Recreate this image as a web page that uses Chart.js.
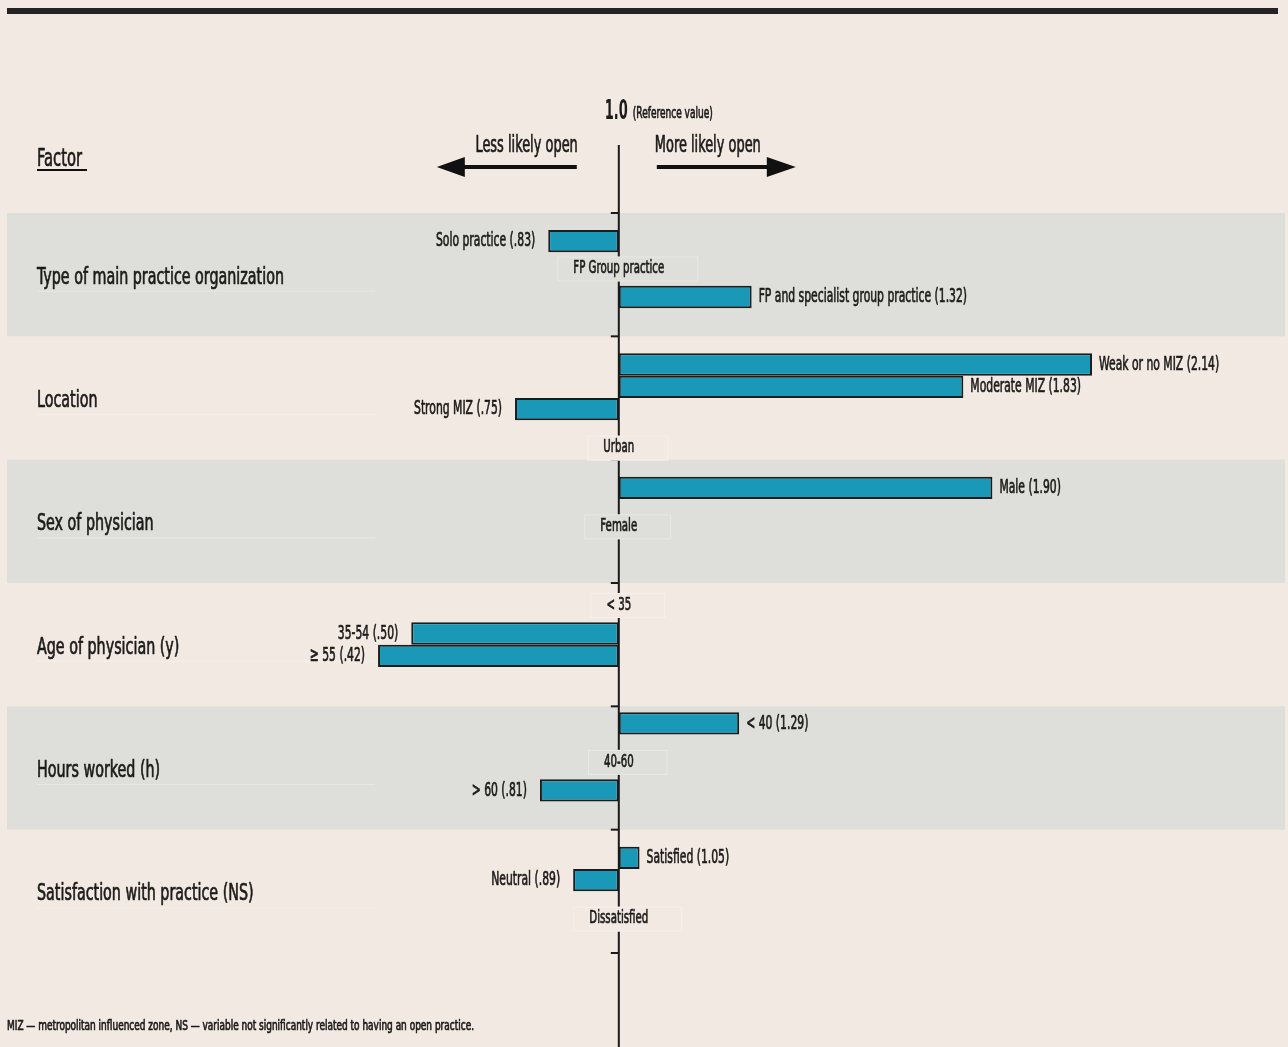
<!DOCTYPE html>
<html>
<head>
<meta charset="utf-8">
<script src="https://cdn.jsdelivr.net/npm/chart.js@4.4.1/dist/chart.umd.min.js"></script>
<style>
  html, body { margin: 0; padding: 0; background: #f2e9e3; }
  #wrap { width: 1288px; height: 1047px; position: relative; }
  canvas { display: block; }
</style>
</head>
<body>
<div id="wrap"><canvas id="c" width="1288" height="1047" style="width:1288px;height:1047px"></canvas></div>
<script>
// ---------------- data ----------------
const factors = [
  'Type of main practice organization',
  'Location',
  'Sex of physician',
  'Age of physician (y)',
  'Hours worked (h)',
  'Satisfaction with practice (NS)'
];
const referenceValue = 1.0;

const practiceLevels = ['Solo practice', 'FP Group practice', 'FP and specialist group practice'];
const practiceOR     = [0.83, 1.0, 1.32];

const locationLevels = ['Weak or no MIZ', 'Moderate MIZ', 'Strong MIZ', 'Urban'];
const locationOR     = [2.14, 1.83, 0.75, 1.0];

const sexLevels = ['Male', 'Female'];
const sexOR     = [1.90, 1.0];

const ageLevels = ['< 35', '35-54', '\u2265 55'];
const ageOR     = [1.0, 0.50, 0.42];

const hoursLevels = ['< 40', '40-60', '> 60'];
const hoursOR     = [1.29, 1.0, 0.81];

const satisfactionLevels = ['Satisfied', 'Neutral', 'Dissatisfied'];
const satisfactionOR     = [1.05, 0.89, 1.0];

const headerText = { value: '1.0', note: '(Reference value)', less: 'Less likely open', more: 'More likely open', factor: 'Factor' };
const footnote = 'MIZ \u2014 metropolitan influenced zone, NS \u2014 variable not significantly related to having an open practice.';

// ---------------- layout (row slot of each level inside its factor band) ----------------
const rowLayout = {
  slotsPerFactor: 9,
  slots: [[1, 3, 6], [1, 3, 5, 8], [1, 4], [0, 3, 5], [0, 3, 6], [1, 3, 6]]
};

// ---------------- style ----------------
const BG = '#f2e9e3';
const BAND = '#dedfdb';
const BAR = '#1998b8';
const BORDER = '#1c1c1c';
const TEXT = '#1b1b19';
const FONT = '"DejaVu Sans Condensed", "Liberation Sans Narrow", "Liberation Sans", sans-serif';

const groups = [
  [practiceLevels, practiceOR],
  [locationLevels, locationOR],
  [sexLevels, sexOR],
  [ageLevels, ageOR],
  [hoursLevels, hoursOR],
  [satisfactionLevels, satisfactionOR]
];

const datasets = [];
for (let k = 0; k < rowLayout.slotsPerFactor; k++) {
  const data = [], names = [];
  groups.forEach((g, gi) => {
    const li = rowLayout.slots[gi].indexOf(k);
    data.push(li >= 0 ? g[1][li] : null);
    names.push(li >= 0 ? g[0][li] : null);
  });
  datasets.push({
    label: 'Row ' + (k + 1),
    data,
    levelNames: names,
    base: referenceValue,
    backgroundColor: BAR,
    borderColor: BORDER,
    borderWidth: c => (c.raw === referenceValue ? 0 : 2),
    borderSkipped: false,
    barPercentage: 2,
    categoryPercentage: 0.8145
  });
}

// ---------------- text helpers ----------------
const textStyles = {
  bar:    { size: 20, weight: 'normal', sample: 'Strong MIZ (.75)', width: 88 },
  factor: { size: 23, weight: 'normal', sample: 'Type of main practice organization', width: 247 },
  ref:    { size: 18, weight: 'normal', sample: 'Dissatisfied', width: 59 },
  head:   { size: 23, weight: 'normal', sample: 'More likely open', width: 106 },
  note:   { size: 14, weight: 'normal', sample: footnote, width: 467 },
  refval: { size: 16, weight: 'normal', sample: '(Reference value)', width: 80 },
  one:    { size: 26, weight: 'bold',   sample: '1.0', width: 23 },
  title:  { size: 25, weight: 'normal', sample: 'Factor', width: 45 }
};
function fontOf(s) { return `${s.weight} ${s.size}px ${FONT}`; }
function calibrate(ctx) {
  for (const k in textStyles) {
    const s = textStyles[k];
    if (s.sx) continue;
    ctx.save();
    ctx.font = fontOf(s);
    s.sx = s.width / ctx.measureText(s.sample).width;
    ctx.restore();
  }
}
function drawText(ctx, text, x, y, style, align, baseline) {
  const s = textStyles[style];
  ctx.save();
  ctx.font = fontOf(s);
  ctx.fillStyle = TEXT;
  ctx.strokeStyle = TEXT;
  ctx.textBaseline = baseline || 'middle';
  ctx.textAlign = 'left';
  const w = ctx.measureText(text).width * s.sx;
  let left = x;
  if (align === 'right') left = x - w;
  else if (align === 'center') left = x - w / 2;
  ctx.translate(left, y);
  ctx.scale(s.sx, 1);
  ctx.fillText(text, 0, 0);
  if (s.weight === 'normal') {
    ctx.lineWidth = 0.7;
    ctx.lineJoin = 'round';
    ctx.strokeText(text, 0, 0);
  }
  ctx.restore();
  return { left, right: left + w, width: w };
}
function fmt(v) {
  const s = v.toFixed(2);
  return v < 1 ? s.replace(/^0/, '') : s;
}

// ---------------- plugin ----------------
const decor = {
  id: 'decor',
  beforeDatasetsDraw(chart) {
    const { ctx, chartArea: a, scales: { y } } = chart;
    calibrate(ctx);
    ctx.save();
    ctx.fillStyle = '#252323';
    ctx.fillRect(a.left + 7, 8, a.right - a.left - 17, 6);
    factors.forEach((f, i) => {
      const top = y.getPixelForValue(i - 0.5);
      const bot = y.getPixelForValue(i + 0.5);
      if (i % 2 === 0) {
        ctx.fillStyle = BAND;
        ctx.fillRect(a.left + 7, top, a.right - a.left - 10, bot - top);
      }
    });
    factors.forEach((f, i) => {
      const cy = y.getPixelForValue(i) + 3;
      drawText(ctx, f, a.left + 37, cy, 'factor', 'left');
      ctx.strokeStyle = 'rgba(255,255,255,0.3)';
      ctx.lineWidth = 1;
      ctx.beginPath();
      ctx.moveTo(a.left + 37, cy + 13.5);
      ctx.lineTo(a.left + 375, cy + 13.5);
      ctx.stroke();
    });
    ctx.restore();
  },
  afterDatasetsDraw(chart) {
    const { ctx, chartArea: a, scales: { x, y } } = chart;
    const cx = x.getPixelForValue(referenceValue);
    ctx.save();
    ctx.strokeStyle = '#1a1a1a';
    ctx.lineWidth = 2;
    ctx.beginPath();
    ctx.moveTo(cx, 145);
    ctx.lineTo(cx, chart.height);
    ctx.stroke();
    for (let i = 0; i <= factors.length; i++) {
      const ty = y.getPixelForValue(i - 0.5);
      ctx.beginPath();
      ctx.moveTo(cx - 8, ty);
      ctx.lineTo(cx, ty);
      ctx.stroke();
    }
    chart.data.datasets.forEach((ds, di) => {
      const meta = chart.getDatasetMeta(di);
      meta.data.forEach((el, gi) => {
        const v = ds.data[gi];
        const name = ds.levelNames[gi];
        if (v === null || v === undefined || name === null) return;
        if (v === referenceValue) {
          const s = textStyles.ref;
          ctx.save();
          ctx.font = fontOf(s);
          const w = ctx.measureText(name).width * s.sx;
          ctx.restore();
          const ly = el.y + 5;
          const bx = cx - w / 2 - 16, bw = w + 50, by = ly - 12, bh = 25;
          ctx.fillStyle = gi % 2 === 0 ? BAND : BG;
          ctx.fillRect(bx, by, bw, bh);
          ctx.strokeStyle = 'rgba(255,255,255,0.32)';
          ctx.lineWidth = 1;
          ctx.strokeRect(bx + 0.5, by + 0.5, bw - 1, bh - 1);
          drawText(ctx, name, cx, ly, 'ref', 'center');
        } else {
          const label = `${name} (${fmt(v)})`;
          if (v < referenceValue) drawText(ctx, label, el.x - 13, el.y, 'bar', 'right');
          else drawText(ctx, label, el.x + 7, el.y, 'bar', 'left');
        }
      });
    });
    const one = drawText(ctx, headerText.value, cx - 14, 119, 'one', 'left', 'alphabetic');
    drawText(ctx, headerText.note, one.right + 5, 118, 'refval', 'left', 'alphabetic');
    drawText(ctx, headerText.less, cx - 41, 152, 'head', 'right', 'alphabetic');
    drawText(ctx, headerText.more, cx + 36, 152, 'head', 'left', 'alphabetic');
    ctx.fillStyle = '#111';
    const ay = 167;
    ctx.fillRect(cx - 156, ay - 2, 114, 4);
    ctx.beginPath();
    ctx.moveTo(cx - 182, ay);
    ctx.lineTo(cx - 154, ay - 10);
    ctx.lineTo(cx - 154, ay + 10);
    ctx.closePath();
    ctx.fill();
    ctx.fillRect(cx + 38, ay - 2, 112, 4);
    ctx.beginPath();
    ctx.moveTo(cx + 177, ay);
    ctx.lineTo(cx + 148, ay - 10);
    ctx.lineTo(cx + 148, ay + 10);
    ctx.closePath();
    ctx.fill();
    const ft = drawText(ctx, headerText.factor, a.left + 37, 166, 'title', 'left', 'alphabetic');
    ctx.fillStyle = '#111';
    ctx.fillRect(a.left + 37, 169, ft.width + 5, 2);
    drawText(ctx, footnote, a.left + 7, 1030, 'note', 'left', 'alphabetic');
    ctx.restore();
  }
};

new Chart(document.getElementById('c'), {
  type: 'bar',
  data: { labels: factors, datasets },
  options: {
    indexAxis: 'y',
    responsive: false,
    animation: false,
    layout: { padding: { top: 213, bottom: 94, left: 0, right: 0 } },
    plugins: { legend: { display: false }, tooltip: { enabled: false } },
    scales: {
      x: { type: 'linear', min: -0.4907, max: 2.6121, display: false },
      y: { type: 'category', display: false, offset: true }
    }
  },
  plugins: [decor]
});
</script>
</body>
</html>
